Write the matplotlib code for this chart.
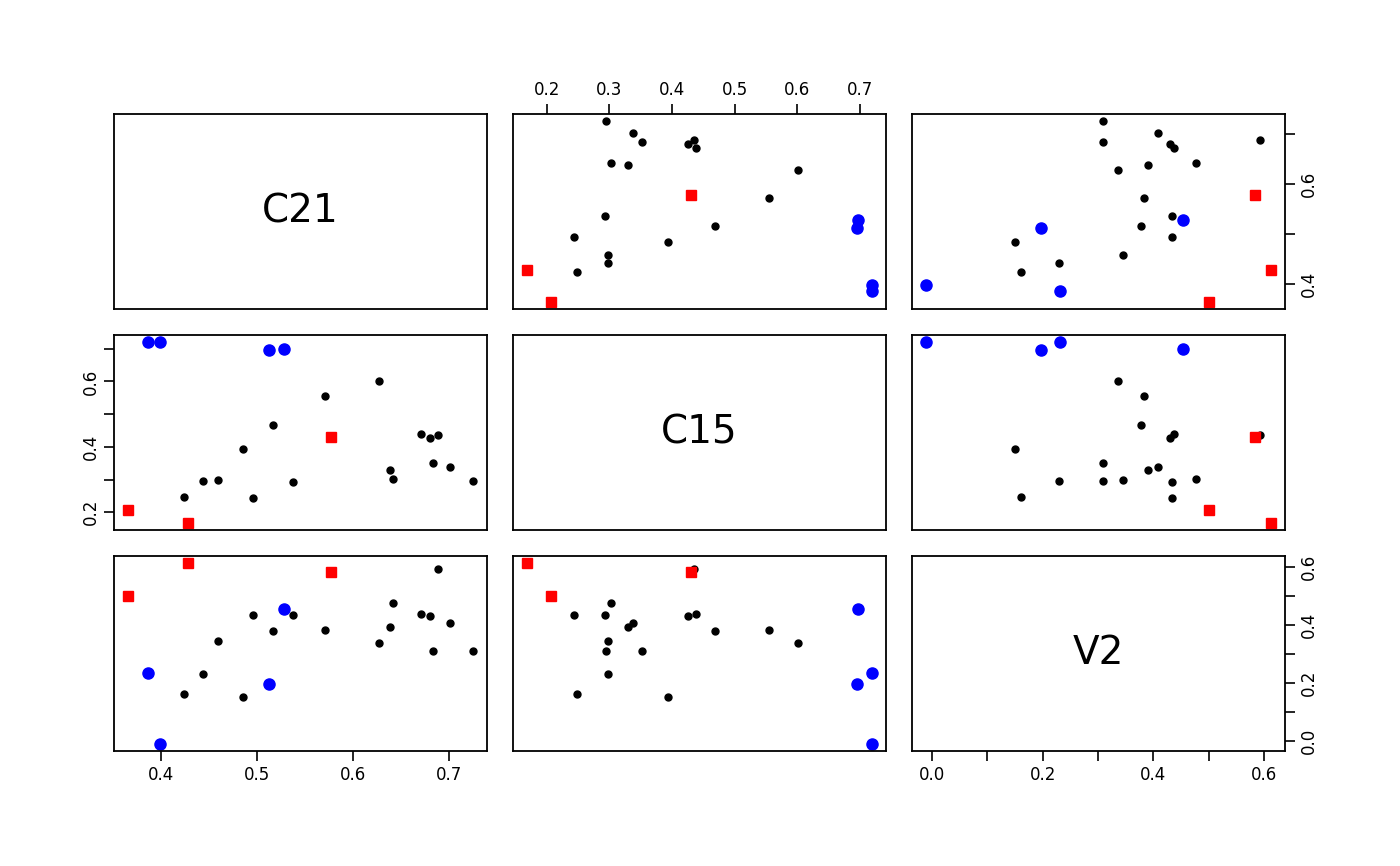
import matplotlib.pyplot as plt
import numpy as np

# values per sample: 4 blue, 3 red, then the black ones
C21 = [0.386, 0.399, 0.512, 0.528, 0.365, 0.428, 0.577,
       0.424, 0.443, 0.459, 0.485, 0.495, 0.516, 0.537, 0.571, 0.627, 0.638, 0.641,
       0.671, 0.680, 0.683, 0.688, 0.701, 0.725]
C15 = [0.720, 0.720, 0.696, 0.698, 0.207, 0.168, 0.430,
       0.248, 0.297, 0.298, 0.394, 0.244, 0.468, 0.293, 0.555, 0.601, 0.329, 0.302,
       0.438, 0.426, 0.352, 0.436, 0.337, 0.295]
V2 = [0.232, -0.011, 0.197, 0.454, 0.500, 0.613, 0.584,
      0.161, 0.229, 0.345, 0.151, 0.434, 0.378, 0.434, 0.383, 0.337, 0.391, 0.477,
      0.438, 0.431, 0.309, 0.592, 0.408, 0.309]
group = ['blue']*4 + ['red']*3 + ['black']*17
names = ['C21', 'C15', 'V2']
ticks = [np.arange(0.4, 0.71, 0.1), np.arange(0.2, 0.71, 0.1), np.arange(0.0, 0.61, 0.1)]

data = [np.array(C21), np.array(C15), np.array(V2)]
group = np.array(group)
W, H = 1400., 866.
left = [114, 513, 912]; top = [114, 335, 556]; pw = 373; ph = 195

def lims(v):
    r = v.max() - v.min()
    return v.min() - 0.04*r, v.max() + 0.04*r

def labs(t, every):
    return ['%.1f' % x if i % every == 0 else '' for i, x in enumerate(t)]

plt.figure(figsize=(14, 8.66), dpi=100)
for i in range(3):
    for j in range(3):
        ax = plt.axes([left[j]/W, 1 - (top[i]+ph)/H, pw/W, ph/H])
        ax.set_xlim(lims(data[j])); ax.set_ylim(lims(data[i]))
        if i == j:
            plt.text(0.5, 0.5, names[i], fontsize=28, ha='center', va='center', transform=ax.transAxes)
        else:
            m = group == 'black'
            plt.plot(data[j][m], data[i][m], 'o', color='black', ms=5)
            m = group == 'blue'
            plt.plot(data[j][m], data[i][m], 'o', color='blue', ms=8)
            m = group == 'red'
            plt.plot(data[j][m], data[i][m], 's', color='red', ms=7)
        for s in ax.spines.values():
            s.set_linewidth(1.3)
        ax.tick_params(labelsize=12, width=1.2, length=7,
                       bottom=False, top=False, left=False, right=False,
                       labelbottom=False, labeltop=False, labelleft=False, labelright=False)
        ex = 2 if j == 0 else (1 if j == 1 else 2)
        ey = 2
        ax.set_xticks(ticks[j]); ax.set_xticklabels(labs(ticks[j], 1 if j == 0 else ex))
        ax.set_yticks(ticks[i]); ax.set_yticklabels(labs(ticks[i], ey), rotation=90, va='center')
        if i == 0 and j % 2 == 1:
            ax.tick_params(top=True, labeltop=True)
        if i == 2 and j % 2 == 0:
            ax.tick_params(bottom=True, labelbottom=True)
        if j == 0 and i % 2 == 1:
            ax.tick_params(left=True, labelleft=True)
        if j == 2 and i % 2 == 0:
            ax.tick_params(right=True, labelright=True)

plt.savefig('out.png')
